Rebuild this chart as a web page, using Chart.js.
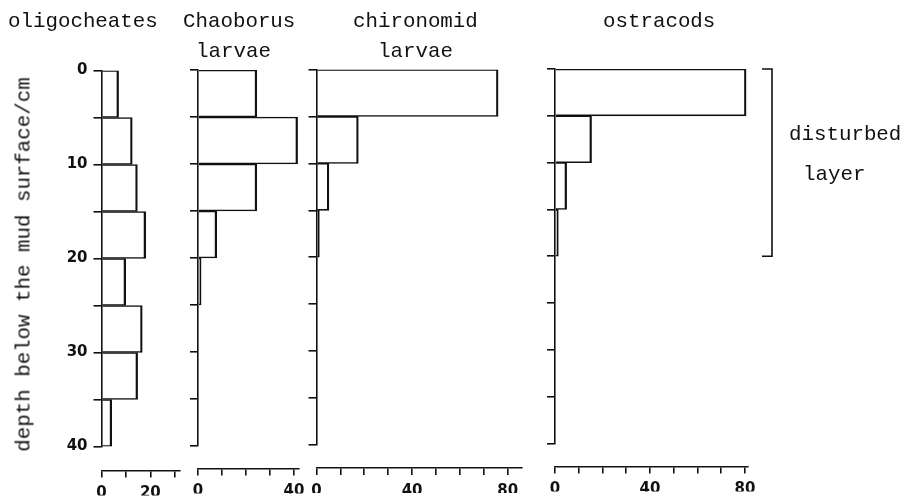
<!DOCTYPE html>
<html>
<head>
<meta charset="utf-8">
<script src="https://cdn.jsdelivr.net/npm/chart.js@4.4.0/dist/chart.umd.min.js"></script>
<style>
  body { margin: 0; background: #fff; }
  #wrap { position: relative; width: 901px; height: 501px; overflow: hidden; }
  canvas { position: absolute; left: 0; top: 0; }
  .lbl { position: absolute; font-family: 'Liberation Mono', monospace; font-size: 20.8px; line-height: 21px; color: #111; white-space: nowrap; }
</style>
</head>
<body>
<div id="wrap">
  <canvas id="c1" width="901" height="501"></canvas>
  <canvas id="c2" width="901" height="501"></canvas>
  <canvas id="c3" width="901" height="501"></canvas>
  <canvas id="c4" width="901" height="501"></canvas>
  <div class="lbl" style="left:8px; top:11px;">oligocheates</div>
  <div class="lbl" style="left:183px; top:11px;">Chaoborus</div>
  <div class="lbl" style="left:196px; top:41px;">larvae</div>
  <div class="lbl" style="left:353px; top:11px;">chironomid</div>
  <div class="lbl" style="left:378px; top:41px;">larvae</div>
  <div class="lbl" style="left:603px; top:11px;">ostracods</div>
  <div class="lbl" style="left:789px; top:124px;">disturbed</div>
  <div class="lbl" style="left:803px; top:164px;">layer</div>
  <div class="lbl" style="left:-176px; top:254px; width:400px; text-align:center; transform:rotate(-90deg);">depth below the mud surface/cm</div>
</div>
<script>
// depth intervals (cm), mid points of each 5 cm slice
const depthMid = [2.5, 7.5, 12.5, 17.5, 22.5, 27.5, 32.5, 37.5];
const depthTickLabels = [0, 10, 20, 30, 40];

// numbers per slice
const oligocheates = [7, 12.6, 14.7, 18.1, 9.9, 16.7, 14.8, 4.2];
const chaoborus = [24.5, 41.5, 24.5, 7.8, 1.3, 0, 0, 0];
const chironomid = [76, 17.5, 5.2, 1.2, 0, 0, 0, 0];
const ostracods = [80.5, 15.4, 4.9, 1.4, 0, 0, 0, 0];

const oligoTickLabels = [0, 20];
const chaoTickLabels = [0, 40];
const chiroTickLabels = [0, 40, 80];
const ostraTickLabels = [0, 40, 80];

const disturbedLayer = [0, 20];

const ink = '#111';
Chart.defaults.font.family = 'DejaVu Sans';
Chart.defaults.font.size = 15;
Chart.defaults.font.weight = 'bold';
Chart.defaults.color = ink;

const bracket = {
  id: 'bracket',
  afterDraw(chart) {
    const ctx = chart.ctx;
    const y = chart.scales.y;
    const top = y.getPixelForValue(disturbedLayer[0]);
    const bot = y.getPixelForValue(disturbedLayer[1]);
    const x = chart.chartArea.right + 24;
    ctx.save();
    ctx.strokeStyle = ink;
    ctx.lineWidth = 1.6;
    ctx.beginPath();
    ctx.moveTo(x - 10, top);
    ctx.lineTo(x, top);
    ctx.lineTo(x, bot);
    ctx.lineTo(x - 10, bot);
    ctx.stroke();
    ctx.restore();
  }
};

function panel(id, values, xLabels, p) {
  const yW = 50, xH = 25;
  new Chart(document.getElementById(id), {
    type: 'bar',
    data: {
      datasets: [{
        data: values.map((v, i) => ({ x: v, y: depthMid[i] })),
        backgroundColor: 'rgba(255,255,255,0)',
        borderColor: ink,
        borderWidth: { left: 0, right: 1.6, top: 0.9, bottom: 0.9 },
        borderSkipped: false,
        barPercentage: 1,
        categoryPercentage: 1,
        xAxisID: 'x'
      }]
    },
    options: {
      indexAxis: 'y',
      responsive: false,
      animation: false,
      events: [],
      layout: {
        padding: { left: p.left - yW, right: 901 - p.right, top: p.top, bottom: 501 - p.bottom - p.gap - xH }
      },
      plugins: { legend: { display: false }, tooltip: { enabled: false } },
      scales: {
        y: {
          type: 'linear', position: 'left', reverse: true, min: 0, max: 40, offset: false,
          afterFit: s => { s.width = yW; },
          ticks: {
            stepSize: 5, padding: 6, display: p.showY,
            callback: v => depthTickLabels.includes(v) ? v : ''
          },
          grid: { offset: false, drawOnChartArea: false, tickLength: 8, color: ink, lineWidth: 1.6 },
          border: { color: ink, width: 1.6 }
        },
        pad: {
          type: 'linear', position: 'bottom', weight: 0,
          afterFit: s => { s.height = p.gap; },
          ticks: { display: false },
          grid: { display: false },
          border: { display: false }
        },
        x: {
          type: 'linear', position: 'bottom', weight: 1, min: 0, max: p.xMax,
          afterFit: s => { s.height = xH; },
          ticks: {
            stepSize: 10, includeBounds: false, autoSkip: false, maxRotation: 0, padding: 7,
            callback: v => xLabels.includes(v) ? v : ''
          },
          grid: { drawOnChartArea: false, tickLength: 7, color: ink, lineWidth: 1.6 },
          border: { color: ink, width: 1.6 }
        }
      }
    },
    plugins: p.bracket ? [bracket] : []
  });
}

panel('c1', oligocheates, oligoTickLabels, { left: 101.5, right: 179.6, xMax: 32, top: 70.5, bottom: 446.5, gap: 24, showY: true });
panel('c2', chaoborus, chaoTickLabels, { left: 198, right: 298.8, xMax: 42, top: 70, bottom: 446, gap: 22.5, showY: false });
panel('c3', chironomid, chiroTickLabels, { left: 316.5, right: 522, xMax: 86, top: 69.5, bottom: 445, gap: 23, showY: false });
panel('c4', ostracods, ostraTickLabels, { left: 555, right: 748, xMax: 81.3, top: 69, bottom: 443.5, gap: 23, showY: false, bracket: true });
</script>
</body>
</html>
